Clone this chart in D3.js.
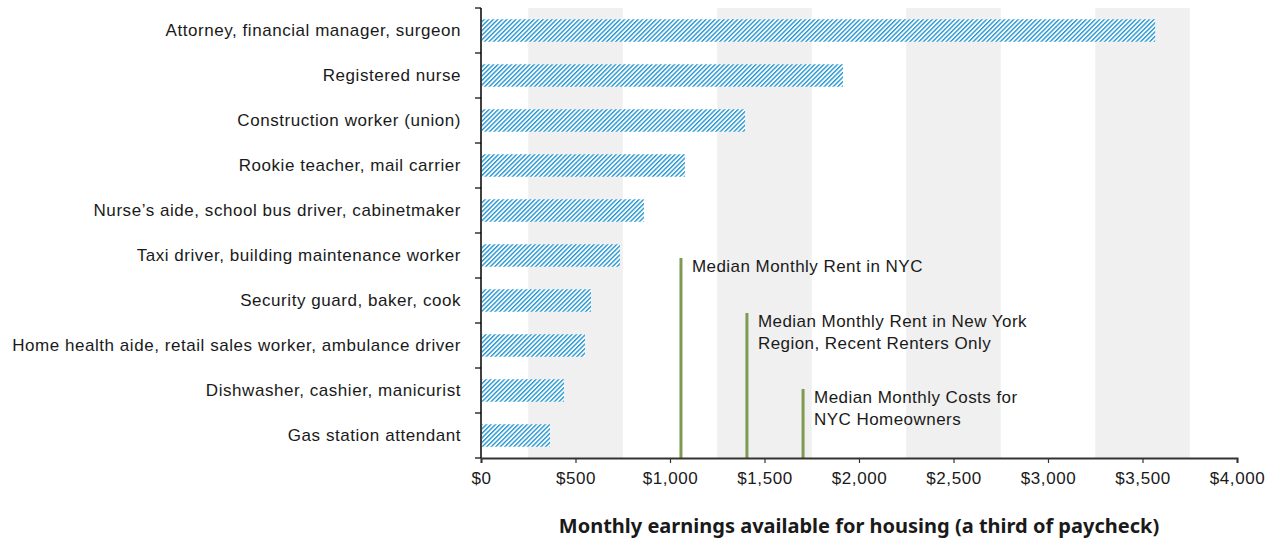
<!DOCTYPE html>
<html>
<head>
<meta charset="utf-8">
<script src="https://cdn.jsdelivr.net/npm/d3@7"></script>
<style>
  body { margin: 0; background: #fff; }
  text { font-family: "Liberation Sans", Arial, sans-serif; fill: #1a1a1a; }
</style>
</head>
<body>
<svg id="chart" width="1278" height="541"></svg>
<script>
// occupations, top to bottom
var occupations = [
  "Attorney, financial manager, surgeon",
  "Registered nurse",
  "Construction worker (union)",
  "Rookie teacher, mail carrier",
  "Nurse\u2019s aide, school bus driver, cabinetmaker",
  "Taxi driver, building maintenance worker",
  "Security guard, baker, cook",
  "Home health aide, retail sales worker, ambulance driver",
  "Dishwasher, cashier, manicurist",
  "Gas station attendant"
];
// monthly earnings available for housing ($)
var housingBudget = [3567, 1915, 1397, 1079, 862, 735, 582, 550, 439, 365];

// reference lines
var refLabels = [
  ["Median Monthly Rent in NYC"],
  ["Median Monthly Rent in New York", "Region, Recent Renters Only"],
  ["Median Monthly Costs for", "NYC Homeowners"]
];
var refValues = [1058, 1407, 1704];

var xTicks = [0, 500, 1000, 1500, 2000, 2500, 3000, 3500, 4000];
var shadeBands = [[250, 750], [1250, 1750], [2250, 2750], [3250, 3750]];

(function () {
  var svg = d3.select("#chart"),
      margin = {top: 8, right: 41, bottom: 83, left: 481},
      width = +svg.attr("width") - margin.left - margin.right,
      height = +svg.attr("height") - margin.top - margin.bottom;

  var x = d3.scaleLinear().domain([0, 4000]).range([0, width]);
  var y = d3.scaleBand().domain(occupations).range([0, height])
    .paddingInner(0.5).paddingOuter(0.25);

  // hatch pattern
  var defs = svg.append("defs");
  var pat = defs.append("pattern")
    .attr("id", "hatch")
    .attr("patternUnits", "userSpaceOnUse")
    .attr("width", 3.2).attr("height", 3.2)
    .attr("patternTransform", "rotate(45)");
  pat.append("rect").attr("width", 3.2).attr("height", 3.2).attr("fill", "#fff");
  pat.append("line")
    .attr("x1", 0.7).attr("y1", 0).attr("x2", 0.7).attr("y2", 3.2)
    .attr("stroke", "#1b93d2").attr("stroke-width", 1.35);

  var g = svg.append("g")
    .attr("transform", "translate(" + margin.left + "," + margin.top + ")");

  // gray background bands
  g.selectAll(".shade")
    .data(shadeBands)
    .enter().append("rect")
    .attr("class", "shade")
    .attr("x", function(d) { return x(d[0]); })
    .attr("y", 0)
    .attr("width", function(d) { return x(d[1]) - x(d[0]); })
    .attr("height", height)
    .attr("fill", "#f0f0f0");

  // bars
  g.selectAll(".bar")
    .data(occupations)
    .enter().append("rect")
    .attr("class", "bar")
    .attr("x", x(0) + 1)
    .attr("y", function(d) { return y(d); })
    .attr("width", function(d, i) { return x(housingBudget[i]) - x(0) - 1; })
    .attr("height", y.bandwidth())
    .attr("fill", "url(#hatch)");

  // reference lines
  var lineTops = [258, 313, 389];
  refValues.forEach(function(v, i) {
    var top = lineTops[i] - margin.top;
    g.append("line")
      .attr("x1", x(v)).attr("x2", x(v))
      .attr("y1", top).attr("y2", height)
      .attr("stroke", "#7f9a52").attr("stroke-width", 3);
    var t = g.append("text")
      .attr("x", x(v) + 11)
      .attr("y", top + 14)
      .style("font-size", "17px")
      .style("letter-spacing", "0.45px");
    refLabels[i].forEach(function(line, j) {
      t.append("tspan").attr("x", x(v) + 11).attr("dy", j === 0 ? 0 : 22).text(line);
    });
  });

  // y axis: ticks at category boundaries
  var step = y.step();
  g.append("line")
    .attr("x1", 0).attr("x2", 0).attr("y1", 0).attr("y2", height)
    .attr("stroke", "#000").attr("stroke-width", 1.5);
  var bounds = d3.range(occupations.length + 1).map(function(i) { return i * step; });
  g.selectAll(".ytick")
    .data(bounds)
    .enter().append("line")
    .attr("class", "ytick")
    .attr("x1", -6).attr("x2", 0)
    .attr("y1", function(d) { return d; }).attr("y2", function(d) { return d; })
    .attr("stroke", "#000").attr("stroke-width", 1.2);
  g.selectAll(".ylabel")
    .data(occupations)
    .enter().append("text")
    .attr("class", "ylabel")
    .attr("x", -20)
    .attr("y", function(d) { return y(d) + y.bandwidth() / 2; })
    .attr("dy", "0.35em")
    .attr("text-anchor", "end")
    .style("font-size", "17px")
    .style("letter-spacing", "0.55px")
    .text(function(d) { return d; });

  // x axis
  var xAxis = g.append("g")
    .attr("transform", "translate(0," + height + ")")
    .call(d3.axisBottom(x).tickValues(xTicks).tickSize(5).tickPadding(9)
      .tickFormat(function(d) { return "$" + d3.format(",")(d); }));
  xAxis.select(".domain").attr("stroke", "#333").attr("stroke-width", 2);
  xAxis.selectAll(".tick line").attr("stroke", "#333").attr("stroke-width", 1.2);
  xAxis.selectAll(".tick text")
    .style("font-size", "17px")
    .style("letter-spacing", "0.6px")
    .style("font-family", "Liberation Sans, Arial, sans-serif")
    .attr("fill", "#1a1a1a");

  g.append("text")
    .attr("x", width / 2)
    .attr("y", height + 75)
    .attr("text-anchor", "middle")
    .style("font-family", "Noto Sans, sans-serif")
    .style("font-weight", "bold")
    .style("font-size", "20px")
    .text("Monthly earnings available for housing (a third of paycheck)");
})();
</script>
</body>
</html>
